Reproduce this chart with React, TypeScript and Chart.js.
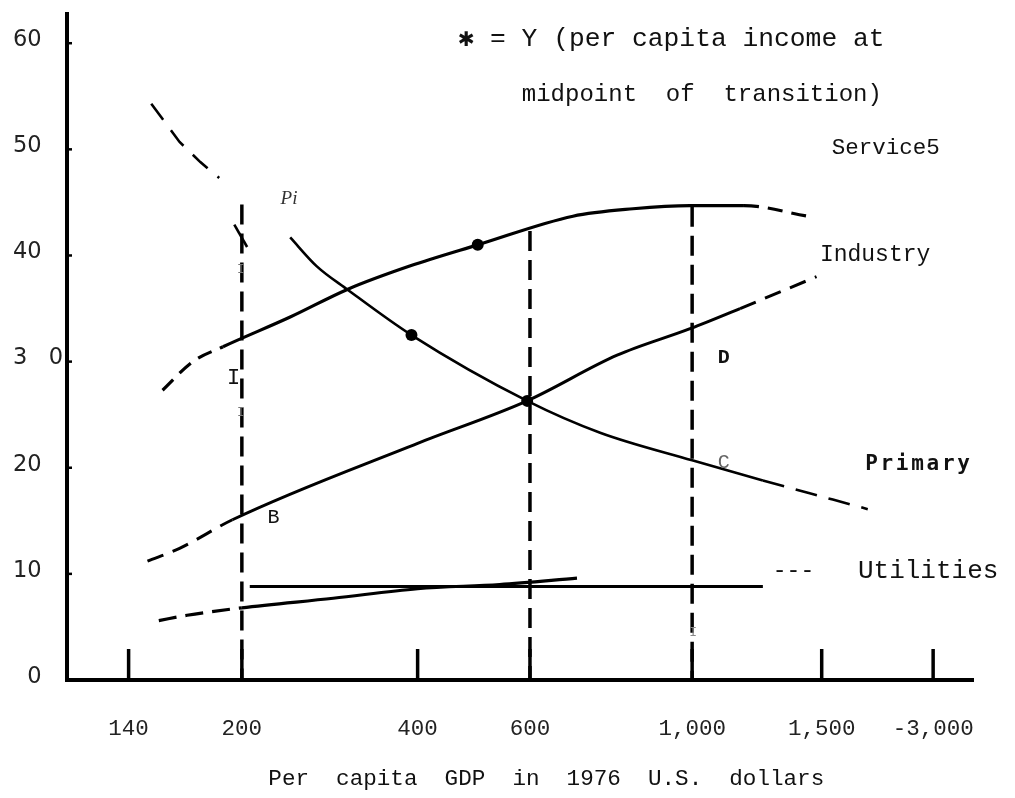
import React, { useEffect, useRef } from 'react';
import { Chart, registerables } from 'chart.js';

Chart.register(...registerables);

// ---------- axis definitions ----------
const xTickValues = [140, 200, 400, 600, 1000, 1500, 3000];
const xTickLabels = ['140', '200', '400', '600', '1,000', '1,500', '-3,000'];
// where each GDP tick sits along the (non-linear) horizontal axis, 0..100
const xTickSpots = [6.8, 19.3, 38.7, 51.1, 69.0, 83.3, 95.6];
const yTickLabels = ['  0', '10', '20', '3   0', '40', '50', '60'];

// ---------- series (per capita GDP, share in %) ----------
const servicesGdp = [158, 174, 190, 255, 320, 391, 507, 706, 854, 995, 1200, 1446];
const servicesShare = [27.3, 30.0, 31.4, 34.2, 36.8, 39.0, 41.0, 43.7, 44.4, 44.7, 44.7, 43.7];
const servicesDashed = [0, 1, 10];

const industryGdp = [150, 167, 195, 400, 595, 815, 995, 1185, 1480];
const industryShare = [11.2, 12.4, 15.1, 22.3, 26.3, 30.6, 33.1, 35.0, 38.0];
const industryDashed = [0, 1, 7];

const primaryUpperGdp = [152, 167, 178, 188];
const primaryUpperShare = [54.3, 50.7, 48.8, 47.3];
const primaryStubGdp = [196, 206];
const primaryStubShare = [42.9, 40.8];
const primaryGdp = [255, 285, 320, 393, 595, 773, 1000, 1273, 1650, 2120];
const primaryShare = [41.7, 39.0, 36.8, 32.5, 26.3, 23.3, 20.7, 18.8, 17.0, 16.1];
const primaryDashed = [7, 8];

const utilitiesGdp = [156, 171, 200, 304, 400, 546, 716];
const utilitiesShare = [5.6, 6.1, 6.8, 7.7, 8.6, 9.0, 9.6];
const utilitiesDashed = [0, 1];

const levelLineGdp = [209, 1273];
const levelLineShare = [8.8, 8.8];

const transitionGdp = [200, 600, 1000];
const transitionTop = [44.8, 42.3, 44.6];

const midpointGdp = [507, 393, 595];
const midpointShare = [41.0, 32.5, 26.3];

// ---------- text annotations (x in axis units 0..100, y in %) ----------
type Note = { text: string; x: number; y: number; font: string; align: CanvasTextAlign; color?: string; spacing?: string };
const notes: Note[] = [
  { text: '\u2731 = Y (per capita income at', x: 43.2, y: 60.4, font: '26.3px "Liberation Mono", monospace', align: 'left' },
  { text: 'midpoint  of  transition)', x: 50.2, y: 55.2, font: '24px "Liberation Mono", monospace', align: 'left' },
  { text: 'Service5', x: 84.4, y: 50.1, font: '22.5px "Liberation Mono", monospace', align: 'left' },
  { text: 'Industry', x: 83.1, y: 40.1, font: '23px "Liberation Mono", monospace', align: 'left' },
  { text: 'Primary', x: 88.1, y: 20.3, font: 'bold 21px "DejaVu Sans Mono", monospace', align: 'left', spacing: '2.7px' },
  { text: '---', x: 77.9, y: 10.3, font: '23px "Liberation Mono", monospace', align: 'left' },
  { text: 'Utilities', x: 87.3, y: 10.3, font: '26px "Liberation Mono", monospace', align: 'left' },
  { text: 'D', x: 72.5, y: 30.3, font: 'bold 20px "Liberation Mono", monospace', align: 'center' },
  { text: 'C', x: 72.5, y: 20.5, font: '20px "Liberation Mono", monospace', align: 'center', color: '#666' },
  { text: 'B', x: 22.8, y: 15.3, font: '20px "Liberation Mono", monospace', align: 'center' },
  { text: 'I', x: 18.4, y: 28.4, font: '22px "Liberation Mono", monospace', align: 'center' },
  { text: 'I', x: 19.2, y: 38.7, font: '13px "Liberation Mono", monospace', align: 'center', color: '#777' },
  { text: 'I', x: 19.2, y: 25.2, font: '13px "Liberation Mono", monospace', align: 'center', color: '#777' },
  { text: 'I', x: 69.1, y: 4.5, font: '13px "Liberation Mono", monospace', align: 'center', color: '#888' },
  { text: 'Pi', x: 24.5, y: 45.3, font: 'italic 19px "Liberation Serif", serif', align: 'center', color: '#333' },
  { text: 'Per  capita  GDP  in  1976  U.S.  dollars', x: 52.9, y: -9.3, font: '22.6px "Liberation Mono", monospace', align: 'center' },
];

function toAxis(v: number): number {
  const n = xTickValues.length;
  let i = 0;
  while (i < n - 2 && v > xTickValues[i + 1]) i++;
  const t = (v - xTickValues[i]) / (xTickValues[i + 1] - xTickValues[i]);
  return xTickSpots[i] + t * (xTickSpots[i + 1] - xTickSpots[i]);
}

const pts = (xs: number[], ys: number[]) => xs.map((g, i) => ({ x: toAxis(g), y: ys[i] }));

export default function App() {
  const ref = useRef<HTMLCanvasElement>(null);

  useEffect(() => {
    document.body.style.margin = '0';
    const canvas = ref.current;
    if (!canvas) return;

    const dashSeg = (list: number[], dash: number[]) => ({
      borderDash: (c: any) => (list.includes(c.p0DataIndex) ? dash : undefined),
    });
    const base = {
      borderColor: '#000',
      backgroundColor: '#000',
      pointRadius: 0,
      fill: false,
      cubicInterpolationMode: 'monotone' as const,
      borderCapStyle: 'butt' as const,
    };
    const straight = { cubicInterpolationMode: 'default', tension: 0 };

    const datasets: any[] = [
      { ...base, label: 'Services', data: pts(servicesGdp, servicesShare), borderWidth: 3.2, segment: dashSeg(servicesDashed, [15, 9]) },
      { ...base, label: 'Industry', data: pts(industryGdp, industryShare), borderWidth: 3, segment: dashSeg(industryDashed, [17, 10]) },
      { ...base, ...straight, label: 'Primary (early)', data: pts(primaryUpperGdp, primaryUpperShare), borderWidth: 2.6, borderDash: [20, 13] },
      { ...base, ...straight, label: 'Primary (stub)', data: pts(primaryStubGdp, primaryStubShare), borderWidth: 2.6 },
      { ...base, label: 'Primary', data: pts(primaryGdp, primaryShare), borderWidth: 2.6, segment: dashSeg(primaryDashed, [22, 12]) },
      { ...base, label: 'Utilities', data: pts(utilitiesGdp, utilitiesShare), borderWidth: 3.2, segment: dashSeg(utilitiesDashed, [18, 9]) },
      { ...base, ...straight, label: 'Level', data: pts(levelLineGdp, levelLineShare), borderWidth: 3 },
      ...transitionGdp.map((g, i) => ({
        ...base,
        ...straight,
        label: 'Transition ' + g,
        data: [{ x: toAxis(g), y: transitionTop[i] }, { x: toAxis(g), y: 0 }],
        borderWidth: 3.5,
        borderDash: [20, 9],
      })),
      {
        ...base,
        label: 'Midpoints',
        data: pts(midpointGdp, midpointShare),
        showLine: false,
        pointRadius: 6,
        pointBorderWidth: 0,
        pointBackgroundColor: '#000',
      },
    ];

    const decor = {
      id: 'decor',
      afterDraw(chart: any) {
        const { ctx, scales } = chart;
        const x = scales.x;
        const y = scales.y;
        ctx.save();
        ctx.strokeStyle = '#000';
        ctx.lineCap = 'butt';
        const y0 = y.getPixelForValue(0);
        ctx.lineWidth = 3.5;
        xTickSpots.forEach((s) => {
          const px = x.getPixelForValue(s);
          ctx.beginPath();
          ctx.moveTo(px, y0);
          ctx.lineTo(px, y0 - 31);
          ctx.stroke();
        });
        ctx.lineWidth = 2.5;
        const ax = x.left;
        for (let v = 10; v <= 60; v += 10) {
          const py = y.getPixelForValue(v);
          ctx.beginPath();
          ctx.moveTo(ax, py);
          ctx.lineTo(ax + 5, py);
          ctx.stroke();
        }
        notes.forEach((n) => {
          ctx.font = n.font;
          ctx.fillStyle = n.color || '#111';
          ctx.textAlign = n.align;
          ctx.textBaseline = 'middle';
          (ctx as any).letterSpacing = n.spacing || '0px';
          ctx.fillText(n.text, x.getPixelForValue(n.x), y.getPixelForValue(n.y));
        });
        (ctx as any).letterSpacing = '0px';
        ctx.restore();
      },
    };

    const chart = new Chart(canvas, {
      type: 'line',
      data: { datasets },
      plugins: [decor],
      options: {
        responsive: false,
        animation: false,
        devicePixelRatio: 1,
        layout: { padding: { left: 13, top: 7, right: 42, bottom: 0 } },
        plugins: { legend: { display: false }, tooltip: { enabled: false } },
        scales: {
          x: {
            type: 'linear',
            min: 0,
            max: 100,
            grid: { display: false },
            border: { display: true, color: '#000', width: 4 },
            afterBuildTicks: (s: any) => {
              s.ticks = xTickSpots.map((v) => ({ value: v }));
            },
            afterFit: (s: any) => {
              s.height = 118;
            },
            ticks: {
              autoSkip: false,
              maxRotation: 0,
              padding: 28,
              color: '#222',
              font: { family: '"Liberation Mono", monospace', size: 22.5 },
              callback: (_v: any, i: number) => xTickLabels[i],
            },
          },
          y: {
            type: 'linear',
            min: 0,
            max: 62.8,
            grid: { display: false },
            border: { display: true, color: '#000', width: 4 },
            afterFit: (s: any) => {
              s.width = 54;
            },
            ticks: {
              stepSize: 10,
              includeBounds: false,
              crossAlign: 'far',
              padding: 0,
              labelOffset: -3,
              color: '#222',
              font: { family: '"DejaVu Sans", sans-serif', size: 22.5 },
              callback: (v: any) => yTickLabels[Math.round(Number(v) / 10)] ?? '',
            },
          },
        },
      } as any,
    });

    return () => chart.destroy();
  }, []);

  return (
    <div style={{ width: 1015, height: 798 }}>
      <canvas ref={ref} width={1015} height={798} style={{ display: 'block', width: 1015, height: 798 }} />
    </div>
  );
}
